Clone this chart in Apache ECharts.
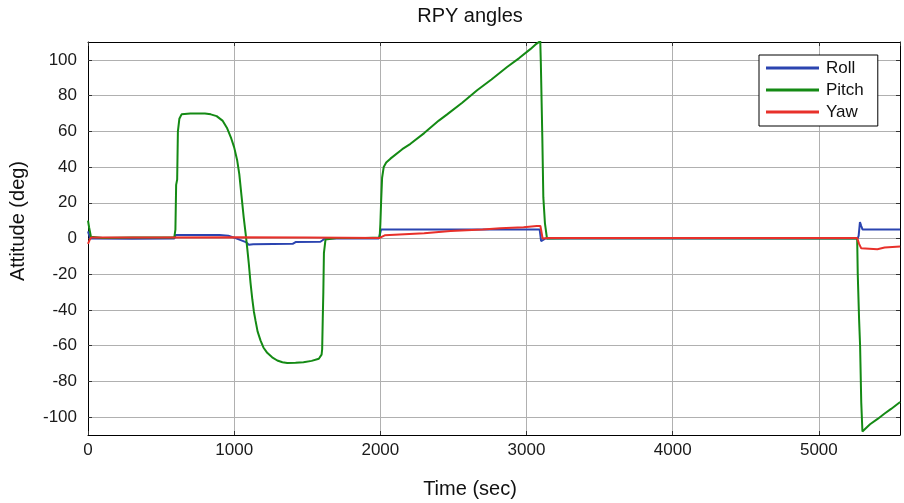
<!DOCTYPE html>
<html><head><meta charset="utf-8">
<script src="https://cdn.jsdelivr.net/npm/echarts@6/dist/echarts.min.js"></script>
<style>html,body{margin:0;padding:0;background:#fff}#c{width:904px;height:503px}</style>
</head><body><div id="c"></div>
<script>
var seriesNames = ['Roll', 'Pitch', 'Yaw'];
var xTicks = [0, 1000, 2000, 3000, 4000, 5000];
var yTicks = [-100, -80, -60, -40, -20, 0, 20, 40, 60, 80, 100];

var rollData = [[0,4],[6,3],[15,0],[300,-0.2],[590,0],[600,2],[900,2],[960,1.5],[1000,0.5],[1040,-0.8],[1080,-2],[1100,-3.5],[1130,-3.2],[1400,-3],[1420,-2],[1590,-1.8],[1605,-1],[1620,0],[1990,0],[2000,0.5],[2005,5],[3090,5],[3100,-1.5],[3110,-1],[3130,0],[5265,0],[5272,1.5],[5281,9.2],[5290,7],[5299,5],[5556,5]];

var pitchData = [[0,10],[8,6],[20,1],[100,0.3],[300,0.5],[590,0.5],[598,5],[603,30],[610,33],[615,60],[625,67],[640,69.5],[700,70],[800,70],[840,69.5],[880,68.5],[920,66],[950,62],[980,56],[1000,51],[1020,44],[1035,36],[1050,24],[1065,12],[1078,3],[1090,-6],[1100,-14],[1112,-25],[1124,-34],[1135,-41],[1146,-46],[1160,-52],[1180,-57],[1200,-61],[1226,-64],[1260,-66.5],[1295,-68.3],[1330,-69.3],[1363,-69.7],[1420,-69.6],[1474,-69.3],[1530,-68.5],[1579,-67.3],[1598,-65],[1602,-62],[1606,-45],[1610,-30],[1614,-8],[1625,-0.5],[1700,0.3],[1900,0.3],[1995,0.5],[2000,8],[2005,20],[2012,34],[2023,40],[2040,42.5],[2069,44.7],[2150,50],[2206,53],[2300,59],[2400,66],[2457,69.5],[2560,76],[2662,83],[2760,89],[2867,96],[2950,101],[3026,106],[3060,108.5],[3094,110.5],[3098,98],[3108,57],[3115,23],[3126,8.5],[3140,0],[3300,0.2],[4000,0.2],[5262,0],[5266,-20],[5275,-45],[5282,-60],[5290,-92],[5298,-108],[5310,-107.5],[5350,-104],[5402,-101],[5450,-98],[5494,-95.4],[5556,-91.5]];

var yawData = [[0,-3],[10,-1],[20,0.5],[500,0.6],[1000,0.7],[1500,0.6],[1995,0.3],[2030,1.8],[2300,3],[2480,4.2],[2700,5],[2820,5.8],[2980,6.3],[3070,7],[3095,7],[3110,0],[3150,0.3],[5262,0.3],[5275,-3],[5290,-5.5],[5300,-6],[5400,-6],[5450,-5],[5556,-4.5]];

var colors = ['#2b44b0', '#148a14', '#e8302a'];
var labelFont = {fontFamily: 'Liberation Sans, Arial, sans-serif', fontSize: 17, color: '#1a1a1a'};
var gridColor = '#b0b0b0';
var G = {left: 88, right: 4, top: 42, bottom: 68};
var yUnit = (503 - G.top - G.bottom) / 220;

var chart = echarts.init(document.getElementById('c'));
chart.setOption({
  animation: false,
  backgroundColor: '#fff',
  color: colors,
  grid: [
    {left: G.left, right: G.right, top: G.top, bottom: G.bottom},
    {left: G.left, right: G.right, top: G.top + 10 * yUnit, bottom: G.bottom + 10 * yUnit}
  ],
  graphic: [
    {type: 'text', x: 470, y: 16, style: {text: 'RPY angles', font: '20px Liberation Sans', fill: '#111', align: 'center', verticalAlign: 'middle'}},
    {type: 'text', x: 470, y: 489, style: {text: 'Time (sec)', font: '20px Liberation Sans', fill: '#111', align: 'center', verticalAlign: 'middle'}},
    {type: 'text', x: 18, y: 221, rotation: Math.PI / 2, style: {text: 'Attitude (deg)', font: '20px Liberation Sans', fill: '#111', align: 'center', verticalAlign: 'middle'}}
  ],
  legend: {
    orient: 'vertical', left: 759, top: 55,
    data: seriesNames,
    icon: 'rect', itemWidth: 53, itemHeight: 3, itemGap: 2,
    padding: [3, 14, 4, 7],
    backgroundColor: '#fff', borderColor: '#000', borderWidth: 1,
    textStyle: {fontFamily: 'Liberation Sans', fontSize: 17, color: '#111', lineHeight: 20, padding: [0, 0, 0, 2]}
  },
  xAxis: [
    {type: 'value', gridIndex: 0, min: 0, max: 5555, interval: 1000, position: 'bottom',
     axisLine: {show: true, onZero: false, lineStyle: {color: '#000', width: 1}},
     axisTick: {show: true, inside: true, length: 4, lineStyle: {color: '#333'}},
     axisLabel: Object.assign({margin: 7, showMaxLabel: false, formatter: function (v) { return String(v); }}, labelFont),
     splitLine: {show: true, lineStyle: {color: gridColor, width: 1}}},
    {type: 'value', gridIndex: 0, min: 0, max: 5555, interval: 1000, position: 'top',
     axisLine: {show: true, onZero: false, lineStyle: {color: '#000', width: 1}},
     axisTick: {show: true, inside: true, length: 4, lineStyle: {color: '#333'}},
     axisLabel: {show: false}, splitLine: {show: false}},
    {type: 'value', gridIndex: 1, min: 0, max: 1, show: false}
  ],
  yAxis: [
    {type: 'value', gridIndex: 0, min: -110, max: 110, position: 'left',
     axisLine: {show: true, onZero: false, lineStyle: {color: '#000', width: 1}},
     axisTick: {show: false}, axisLabel: {show: false}, splitLine: {show: false}},
    {type: 'value', gridIndex: 0, min: -110, max: 110, position: 'right',
     axisLine: {show: true, onZero: false, lineStyle: {color: '#000', width: 1}},
     axisTick: {show: false}, axisLabel: {show: false}, splitLine: {show: false}},
    {type: 'value', gridIndex: 1, min: yTicks[0], max: yTicks[yTicks.length - 1], interval: 20, position: 'left',
     axisLine: {show: false},
     axisTick: {show: true, inside: true, length: 4, lineStyle: {color: '#333'}},
     axisLabel: Object.assign({margin: 11}, labelFont),
     splitLine: {show: true, lineStyle: {color: gridColor, width: 1}}},
    {type: 'value', gridIndex: 1, min: yTicks[0], max: yTicks[yTicks.length - 1], interval: 20, position: 'right',
     axisLine: {show: false},
     axisTick: {show: true, inside: true, length: 4, lineStyle: {color: '#333'}},
     axisLabel: {show: false}, splitLine: {show: false}}
  ],
  series: [
    {name: seriesNames[0], type: 'line', xAxisIndex: 0, yAxisIndex: 0, data: rollData, symbol: 'none', lineStyle: {width: 2}, z: 3},
    {name: seriesNames[1], type: 'line', xAxisIndex: 0, yAxisIndex: 0, data: pitchData, symbol: 'none', lineStyle: {width: 2}, z: 4},
    {name: seriesNames[2], type: 'line', xAxisIndex: 0, yAxisIndex: 0, data: yawData, symbol: 'none', lineStyle: {width: 2}, z: 5}
  ]
});
</script></body></html>
